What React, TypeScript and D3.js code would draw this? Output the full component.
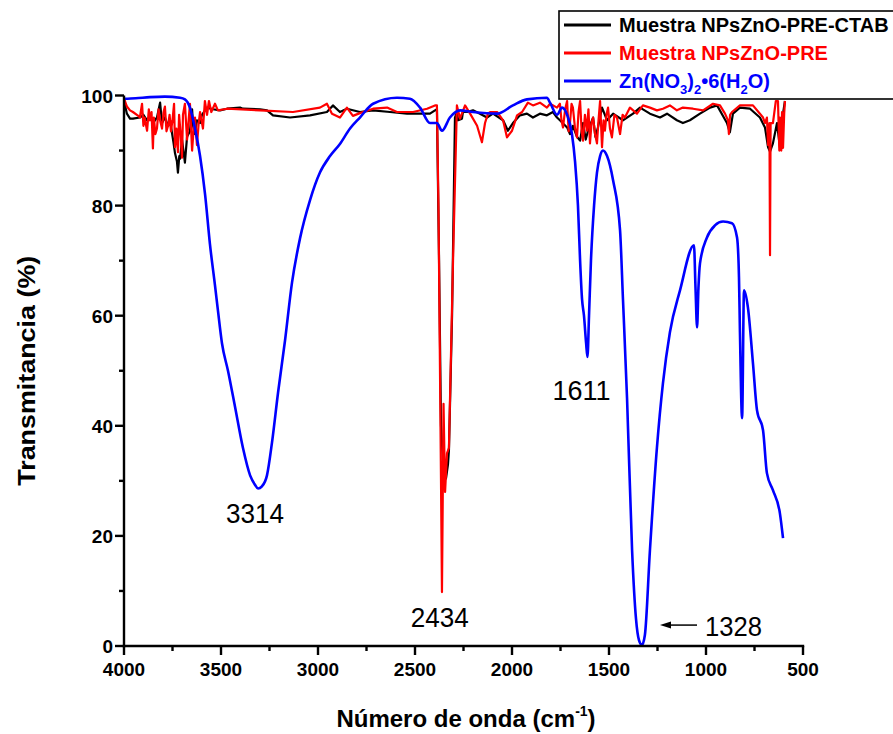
import * as d3 from "d3";

// FTIR spectra, [wavenumber cm-1, transmittance %]
const ctabSeries: [number, number][] = [
  [4000, 99.0], [3985, 96.7], [3969, 95.8], [3954, 95.8], [3918, 96.0], [3900, 96.5],
  [3881, 95.5], [3866, 96.2], [3851, 95.0], [3830, 96.0], [3814, 98.7], [3804, 95.0],
  [3789, 96.0], [3773, 94.5], [3763, 95.5], [3745, 91.5], [3737, 89.5], [3727, 88.0],
  [3722, 86.0], [3715, 89.0], [3711, 88.5], [3701, 92.0], [3686, 87.8], [3675, 92.5],
  [3660, 93.5], [3649, 97.5], [3644, 94.5], [3634, 93.0], [3624, 95.5], [3608, 95.0],
  [3598, 96.5], [3572, 97.8], [3541, 97.5], [3505, 97.3], [3469, 97.6], [3402, 97.8],
  [3387, 97.6], [3299, 97.5], [3263, 97.3], [3232, 96.4], [3144, 96.0], [3041, 96.4],
  [2954, 97.0], [2923, 98.2], [2887, 97.0], [2851, 97.6], [2784, 97.0], [2716, 97.3],
  [2629, 97.0], [2541, 96.7], [2423, 96.7], [2397, 97.3], [2387, 97.5], [2376, 70],
  [2366, 40], [2350, 30], [2340, 30.5], [2330, 33], [2325, 35.6], [2309, 60],
  [2294, 96], [2284, 97], [2278, 95.5], [2258, 95.8], [2253, 97], [2232, 97],
  [2201, 97.3], [2165, 96.7], [2129, 96.0], [2098, 96.7], [2046, 95.5], [2021, 93.6],
  [1995, 95.0], [1959, 96.4], [1923, 96.7], [1892, 96.0], [1856, 96.7], [1820, 96.4],
  [1789, 97.0], [1768, 96.0], [1753, 95.5], [1716, 94.2], [1701, 93.0], [1686, 94.5],
  [1665, 92.5], [1649, 91.8], [1634, 95.0], [1620, 92.0], [1608, 93.6], [1582, 96.0],
  [1570, 92.5], [1557, 94.2], [1536, 97.8], [1510, 95.5], [1479, 96.7], [1428, 95.5],
  [1376, 96.7], [1340, 97.8], [1289, 96.7], [1237, 96.0], [1201, 96.7], [1150, 95.5],
  [1119, 95.0], [1083, 95.5], [1031, 96.7], [979, 97.8], [943, 98.2], [892, 95.0],
  [877, 93.3], [861, 96.7], [825, 97.8], [773, 97.6], [722, 96.0], [696, 94.2],
  [680, 90.6], [670, 89.8], [655, 91.3], [634, 95.0], [619, 90.6], [603, 96.7], [593, 99.0],
];

const preSeries: [number, number][] = [
  [4000, 99.5], [3985, 98.0], [3969, 97.3], [3954, 97.0], [3930, 96.4], [3918, 96.0],
  [3907, 98.5], [3900, 94.5], [3894, 96.0], [3881, 93.6], [3872, 97.5], [3866, 95.5],
  [3858, 97.0], [3851, 90.4], [3846, 96.0], [3838, 93.0], [3830, 94.0], [3822, 97.5],
  [3814, 95.5], [3804, 94.0], [3796, 97.0], [3789, 98.0], [3781, 93.5], [3773, 94.5],
  [3765, 96.5], [3758, 93.5], [3750, 95.5], [3742, 98.5], [3737, 90.6], [3730, 94.0],
  [3722, 89.7], [3716, 96.5], [3708, 93.0], [3701, 88.7], [3696, 96.5], [3686, 98.5],
  [3675, 92.0], [3668, 95.0], [3660, 98.5], [3649, 90.0], [3640, 94.5], [3634, 96.0],
  [3624, 91.0], [3615, 95.0], [3608, 97.0], [3593, 94.0], [3583, 99.0], [3572, 96.5],
  [3562, 99.0], [3550, 97.0], [3531, 98.5], [3516, 97.3], [3469, 97.6],
  [3299, 97.3], [3129, 97.0], [2990, 97.8], [2954, 98.5], [2928, 96.7], [2887, 96.0],
  [2851, 97.8], [2820, 96.3], [2784, 96.8], [2716, 97.6], [2644, 97.8], [2593, 97.0],
  [2510, 97.0], [2438, 97.6], [2397, 98.2], [2387, 98.2], [2379, 80], [2366, 30],
  [2361, 9.8], [2353, 44], [2345, 28], [2335, 35], [2325, 36], [2304, 70],
  [2284, 98.2], [2268, 95.8], [2242, 98.2], [2216, 96.7], [2180, 94.5], [2155, 91.5],
  [2139, 95], [2124, 96.7], [2113, 97], [2077, 97], [2046, 95.5], [2026, 92.4],
  [2000, 93.6], [1974, 96.4], [1948, 97], [1918, 98.7], [1892, 98.2], [1856, 98.7],
  [1820, 97.8], [1804, 98.5], [1768, 97.8], [1753, 98.5], [1745, 95.5], [1737, 94.2],
  [1726, 97.5], [1716, 99], [1708, 93.5], [1701, 95], [1693, 98.5], [1686, 97.8],
  [1675, 94.0], [1665, 92.4], [1657, 97.0], [1649, 99], [1641, 93.5], [1634, 91.8],
  [1624, 96.5], [1614, 93.6], [1606, 97.5], [1598, 91.3], [1590, 95.0], [1582, 96],
  [1572, 93], [1562, 91.3], [1554, 95.5], [1546, 99], [1536, 90.6], [1528, 95.5],
  [1521, 93.6], [1513, 96.5], [1505, 97.8], [1495, 94.0], [1485, 92.4], [1472, 96.5],
  [1459, 96], [1443, 93], [1430, 96.5], [1418, 96], [1392, 97.8], [1356, 96.7],
  [1325, 98.2], [1289, 97.8],
  [1253, 97.3], [1222, 97.6], [1186, 98.2], [1150, 97.3], [1119, 97.8], [1067, 97.6],
  [1015, 97.3], [964, 98.5], [928, 98.2], [902, 96.7], [887, 95.5], [882, 93],
  [876, 96.5], [866, 97], [825, 98.2], [758, 98.2], [722, 96.7], [706, 96], [696, 95],
  [686, 96], [680, 91], [673, 95], [670, 71], [667, 95], [655, 95], [640, 99],
  [629, 99], [622, 90], [619, 96], [612, 90], [608, 97], [603, 90.5], [597, 96.7], [593, 99],
];

const nitrateSeries: [number, number][] = [
  [4000, 99.4], [3940, 99.5], [3866, 99.7], [3790, 99.8], [3711, 99.6], [3686, 99.3],
  [3660, 97.8], [3634, 94], [3608, 89], [3582, 82], [3557, 73], [3531, 65.5], [3516, 61],
  [3495, 55], [3464, 50], [3428, 43.5], [3387, 36], [3350, 31], [3325, 29.3], [3309, 28.6],
  [3289, 29], [3263, 31], [3237, 37], [3206, 46], [3170, 55.5], [3134, 66], [3093, 74],
  [3041, 81], [2990, 86], [2938, 89], [2887, 91.2], [2835, 94], [2784, 96], [2716, 98.5],
  [2593, 99.6], [2526, 99.4], [2474, 97.8], [2423, 95], [2387, 95], [2361, 93.6],
  [2320, 96], [2268, 97.3], [2201, 97], [2077, 96.7], [1995, 98.2], [1923, 99.3],
  [1820, 99.6], [1804, 98.7], [1768, 96.5], [1742, 97.8], [1716, 96.5], [1691, 93],
  [1675, 88], [1660, 80], [1649, 70], [1639, 63], [1629, 60], [1618, 55], [1611, 52.5],
  [1603, 60], [1593, 70], [1577, 80], [1562, 86], [1546, 89], [1531, 90], [1510, 89],
  [1479, 84.6], [1443, 75.5], [1428, 63], [1407, 45], [1381, 17.4], [1361, 5], [1345, 1],
  [1330, 0.2], [1315, 2], [1289, 17.4], [1253, 36], [1222, 47.7], [1186, 57], [1134, 64.6],
  [1062, 72.8], [1054, 65], [1046, 57.9], [1039, 65], [1031, 69.5], [995, 74.2],
  [954, 76.4], [912, 77.1], [866, 76.8], [840, 74.2], [830, 67], [825, 57], [814, 41.4],
  [804, 64.6], [784, 61.5], [758, 51.4], [737, 42.8], [706, 39.2], [686, 31.4],
  [655, 28.3], [619, 24.1], [603, 19.6],
];

const xTicks = [4000, 3500, 3000, 2500, 2000, 1500, 1000, 500];
const xMinorTicks = [3750, 3250, 2750, 2250, 1750, 1250, 750];
const yTicks = [0, 20, 40, 60, 80, 100];
const yMinorTicks = [10, 30, 50, 70, 90];

const peakLabels = [
  { text: "3314", x: 3314, y: 28.6 },
  { text: "2434", x: 2434, y: 9.8 },
  { text: "1611", x: 1611, y: 52.5 },
];

const legendItems = [
  { key: "ctab", color: "#000000" },
  { key: "pre", color: "#ff0000" },
  { key: "nitrate", color: "#0000ff" },
];

const W = 893;
const H = 734;
const margin = { left: 124, right: 90, top: 95.5, bottom: 88 };
const FONT = "'Liberation Sans', Arial, sans-serif";

export default function App() {
  const x = d3.scaleLinear().domain([4000, 500]).range([margin.left, W - margin.right]);
  const y = d3.scaleLinear().domain([0, 100]).range([H - margin.bottom, margin.top]);

  const linear = d3.line<[number, number]>().x((d) => x(d[0])).y((d) => y(d[1]));
  const smooth = d3
    .line<[number, number]>()
    .x((d) => x(d[0]))
    .y((d) => y(d[1]))
    .curve(d3.curveMonotoneX);

  const x0 = x(4000);
  const x1 = x(500);
  const yb = y(0);
  const yt = y(100);

  // legend geometry
  const lgX = 559;
  const lgY = 11;
  const rowY = [25, 53, 81];

  // label offsets relative to the peak they name
  const labelPos: Record<string, [number, number]> = {
    "3314": [-2, 34],
    "2434": [12, 35],
    "1611": [-6, 43],
  };

  return (
    <div style={{ position: "absolute", left: 0, top: 0 }}>
      <svg width={W} height={H} style={{ display: "block", background: "#fff" }} fontFamily={FONT}>
        {/* spectra */}
        <path d={linear(ctabSeries) ?? ""} fill="none" stroke="#000" strokeWidth={2.2} strokeLinejoin="round" />
        <path d={linear(preSeries) ?? ""} fill="none" stroke="#ff0000" strokeWidth={2.2} strokeLinejoin="round" />
        <path d={smooth(nitrateSeries) ?? ""} fill="none" stroke="#0000ff" strokeWidth={2.6} strokeLinejoin="round" />

        {/* axes */}
        <line x1={x0} x2={x0} y1={yt} y2={yb + 1.2} stroke="#000" strokeWidth={2.4} />
        <line x1={x0 - 1.2} x2={x1 + 1.2} y1={yb} y2={yb} stroke="#000" strokeWidth={2.4} />
        {xTicks.map((t) => (
          <g key={"xt" + t}>
            <line x1={x(t)} x2={x(t)} y1={yb} y2={yb + 9} stroke="#000" strokeWidth={2.4} />
            <text x={x(t)} y={yb + 30} textAnchor="middle" fontSize={19} fontWeight="bold">
              {t}
            </text>
          </g>
        ))}
        {xMinorTicks.map((t) => (
          <line key={"xm" + t} x1={x(t)} x2={x(t)} y1={yb} y2={yb + 5} stroke="#000" strokeWidth={2.4} />
        ))}
        {yTicks.map((t) => (
          <g key={"yt" + t}>
            <line x1={x0 - 9} x2={x0} y1={y(t)} y2={y(t)} stroke="#000" strokeWidth={2.4} />
            <text x={x0 - 11} y={y(t) + 7} textAnchor="end" fontSize={19} fontWeight="bold">
              {t}
            </text>
          </g>
        ))}
        {yMinorTicks.map((t) => (
          <line key={"ym" + t} x1={x0 - 5} x2={x0} y1={y(t)} y2={y(t)} stroke="#000" strokeWidth={2.4} />
        ))}

        {/* axis titles */}
        <text
          transform={`translate(35, ${(yt + yb) / 2}) rotate(-90)`}
          textAnchor="middle"
          fontSize={24}
          fontWeight="bold"
          textLength={230}
          lengthAdjust="spacingAndGlyphs"
        >
          Transmitancia (%)
        </text>
        <text x={466} y={727} textAnchor="middle" fontSize={24} fontWeight="bold">
          Número de onda (cm
          <tspan fontSize={14} dy={-11}>-1</tspan>
          <tspan dy={11}>)</tspan>
        </text>

        {/* peak annotations */}
        {peakLabels.map((p) => (
          <text
            key={p.text}
            x={x(p.x) + labelPos[p.text][0]}
            y={y(p.y) + labelPos[p.text][1]}
            textAnchor="middle"
            fontSize={27}
            textLength={58}
            lengthAdjust="spacingAndGlyphs"
          >
            {p.text}
          </text>
        ))}
        <line x1={697} x2={668} y1={y(3.8)} y2={y(3.8)} stroke="#000" strokeWidth={1.5} />
        <path d={`M660,${y(3.8)} L671,${y(3.8) - 3.5} L671,${y(3.8) + 3.5} Z`} fill="#000" />
        <text x={705} y={636} fontSize={27} textLength={57} lengthAdjust="spacingAndGlyphs">
          1328
        </text>

        {/* legend */}
        <rect x={lgX} y={lgY} width={W - lgX + 4} height={88} fill="#fff" stroke="#000" strokeWidth={1.6} />
        {legendItems.map((it, i) => (
          <line key={it.key} x1={564} x2={611} y1={rowY[i]} y2={rowY[i]} stroke={it.color} strokeWidth={3} />
        ))}
        <text x={619} y={rowY[0] + 7} fontSize={20} fontWeight="bold" fill="#000">
          Muestra NPsZnO-PRE-CTAB
        </text>
        <text x={619} y={rowY[1] + 7} fontSize={20} fontWeight="bold" fill="#ff0000">
          Muestra NPsZnO-PRE
        </text>
        <text x={619} y={rowY[2] + 7} fontSize={20} fontWeight="bold" fill="#0000ff">
          Zn(NO
          <tspan fontSize={13} dy={6}>3</tspan>
          <tspan dy={-6}>)</tspan>
          <tspan fontSize={13} dy={6}>2</tspan>
          <tspan dy={-6}>•6(H</tspan>
          <tspan fontSize={13} dy={6}>2</tspan>
          <tspan dy={-6}>O)</tspan>
        </text>
      </svg>
    </div>
  );
}
